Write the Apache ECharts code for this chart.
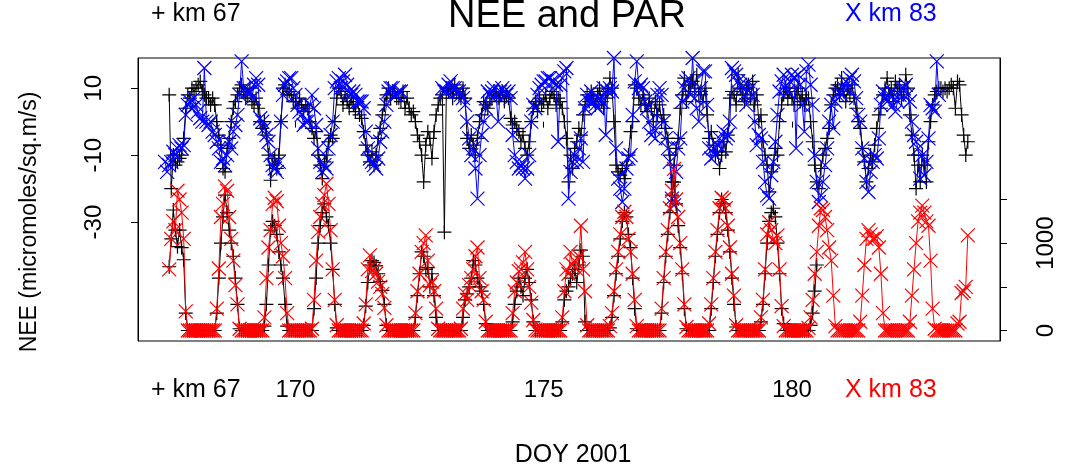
<!DOCTYPE html>
<html>
<head>
<meta charset="utf-8">
<title>NEE and PAR</title>
<script src="https://cdn.jsdelivr.net/npm/echarts@6/dist/echarts.min.js"></script>
<style>
  html, body { margin: 0; padding: 0; background: #fff; }
  #chart { width: 1077px; height: 469px; }
</style>
</head>
<body>
<div id="chart"></div>
<script>
// Hourly values (UTC hours 0..23), one row per day of year starting at DOY 167.
const _ = null;
const firstDay = 167;

// NEE, km 67 tower (micromoles/sq.m/s)
const neeKm67 = [
  [_,_,_,_,_,_, _,_,_,_,_,8, -20,-10,-13,-12,-11,-10, -5,4,8,7,10,9],
  [10,11,12,9,8,7, 7,5,7,5,0,-4, -7,-14,-15,-8,-5,0, 4,6,8,10,11,9],
  [7,8,10,6,5,7, 4,0,-2,0,-4,-10, -17.5,-13,-11,-14,-10,0, 10,11,8,9,8,6],
  [6,4,7,5,3,5, 4,0,-2,-5,-3,-10, -13,-17,-12,-10,-6,-4, -5,0,7,10,9,5],
  [8,6,4,7,5,3, 6,2,1,-3,-7,-10, -12,-9,-13,-10,-5,-2, 2,5,8,10,7,9],
  [9,7,7,6,9,4, 7,4,2,3,0,-4, -6,-10,-18,-7,-3,-5, -11,-3,2,5,7,8],
  [-33,10,9,10,7,11, 9,8,7,10,7,-5, -8,-4,-7,-10,-5,0, 2,6,5,4,6,7],
  [8,9,7,8,9,6, 8,7,1,-1,0,-2, -3,-6,-4,-8,-10,-6, 0,4,6,3,7,5],
  [6,8,4,7,9,8, 5,7,6,4,0,-5, -18,-10,-14,-8,-6,-2, -4,2,5,8,6,9],
  [7,5,8,10,6,4, 7,9,13,10,0,-13, -15,-16,-14,-17,-13,-10, -3,0,11,10,7,5],
  [8,5,3,7,4,0, 6,2,5,0,2,-2, -5,-10,-18,-13,-8,-5, 4,8,13,6,9,11],
  [12,10,14,8,9,6, 10,2,-5,-3,-7,-10, -9,-14,-10,-6,-9,-4, 7,9,8,5,14,10],
  [8,6,10,11,7,12, 5,8,0,2,-6,-10, -13,-21,-15,-13,-8,-10, 0,5,8,10,7,9],
  [7,5,9,10,6,8, 5,7,7,0,-6,-13, -18,-20,-14,-10,-8,-5, -2,5,8,10,11,8],
  [13,9,6,10,8,11, 7,4,0,-2,-8,-12, -18,-14,-10,-12,-7,-2, 2,4,8,10,13,8],
  [10,6,12,9,11,7, 8,14,10,2,-4,-10, -20,-13,-18,-10,-13,-18, -6,0,5,8,9,10],
  [10,9,10,9,10,11, 10,4,12,11,2,-4, -10,-6]
];

// NEE, km 83 tower
const neeKm83 = [
  [_,_,_,_,_,_, _,_,_,-12,-15,-13, -12,-9,-10,-8,-7,-8, -7,2,5,6,4,7],
  [5,3,1,0,16,0, -1,0,-3,-4,-6,-8, -12,-11,-13,-10,-6,-8, -3,-1,2,8,18,10],
  [10,9,9,7,11,13, 11,1,0,-2,-4,-6, -10,-13,-14,-15,-12,0, 8,11,12,13,13,10],
  [8,5,3,2,-1,0, 0,5,8,4,-1,-8, -12,-15,-13,-14,-8,-4, 0,10,12,13,10,12],
  [14,11,9,8,9,8, 6,6,6,4,-3,-8, -11,-12,-13,-14,-11,-6, -3,0,5,9,10,10],
  [8,8,9,9,_,_, _,_,_,_,_,_, _,_,_,_,_,_, _,_,_,_,_,10],
  [9,9,11,12,10,10, 9,9,8,7,5,0, -5,-10,-8,-14,-23,-10, -4,0,4,9,8,9],
  [10,8,0,9,10,9, 8,9,7,-4,-10,-12, -14,-13,-14,-17,-14,-10, 0,5,4,8,10,11],
  [12,12,13,13,12,12, 11,-6,11,13,15,16, -23,-15,-12,-10,-12,-8, -5,-12,4,8,6,9],
  [6,5,4,7,6,10, -4,9,10,9,19,-8, -17,-20,-24,-20,-14,-11, -10,2,12,18,10,11],
  [10,6,4,0,-4,-2, -5,8,10,8,0,-5, -8,-12,-23,-25,-15,-8, -5,6,10,12,13,8],
  [19,7,4,0,10,15, 15,5,-8,-11,-8,-10, -7,-5,-8,-3,-5,-4, 0,16,15,14,12,11],
  [10,8,5,12,10,8, 0,-7,-4,-5,-12,-18, -22,-23,-16,-12,-6,2, 9,12,14,10,9,12],
  [14,13,-8,14,11,5, -3,15,17,11,5,-10, -18,-24,-22,-18,-13,-8, 0,5,-2,6,8,9],
  [8,10,12,10,13,14, 12,7,2,0,-8,-11, -18,-21,-15,-12,-10,-11, -5,5,9,7,6,8],
  [9,5,3,6,8,10, 10,11,8,6,0,-4, -6,-8,-17,-10,-16,-12, -5,5,4,3,18,8]
];

// PAR, km 67 tower
const parKm67 = [
  [_,_,_,_,_,_, _,_,_,_,_,730, 1050,1380,1150,960,1150,950, 810,200,0,0,0,0],
  [0,0,0,0,0,0, 0,0,0,0,200,600, 1000,1300,1550,1350,1150,1000, 850,600,300,20,0,0],
  [0,0,0,0,0,0, 0,0,0,50,300,750, 1150,1250,1200,1100,900,750, 600,300,50,0,0,0],
  [0,0,0,0,0,0, 0,0,0,250,600,1000, 1200,1350,1450,1300,1200,1000, 700,300,30,0,0,0],
  [0,0,0,0,0,0, 0,0,0,60,280,550, 750,800,780,740,650,560, 460,300,60,0,0,0],
  [0,0,0,0,0,0, 0,0,0,0,150,400, 650,900,850,700,720,500, 650,400,150,0,0,0],
  [0,0,0,0,0,0, 0,0,0,150,350,420, 500,600,800,750,600,500, 450,300,80,0,0,0],
  [0,0,0,0,0,0, 0,0,0,100,300,450, 600,500,400,600,700,550, 350,100,0,0,0,0],
  [0,0,0,0,0,0, 0,0,0,100,350,450, 500,600,650,700,550,750, 920,850,100,0,0,0],
  [0,0,0,0,0,0, 0,0,30,150,400,650, 850,1050,1250,1350,1300,1100, 950,600,250,20,0,0],
  [0,0,0,0,0,0, 0,0,0,200,550,850, 1100,1350,1550,1700,1450,1200, 950,650,250,20,0,0],
  [0,0,0,0,0,0, 0,0,0,250,550,850, 1100,1350,1500,1450,1350,1150, 900,600,300,40,0,0],
  [0,0,0,0,0,0, 0,0,0,100,300,650, 1000,1250,1350,1400,1300,1000, 650,250,80,0,0,0],
  [0,0,0,0,0,0, 0,0,0,60,200,450, 750]
];

// PAR, km 83 tower
const parKm83 = [
  [_,_,_,_,_,_, _,_,_,_,_,700, 1050,1250,1150,1600,1500,1350, 1050,220,0,0,0,0],
  [0,0,0,0,0,0, 0,0,0,0,250,710, 1300,1450,1650,1600,1300,1050, 800,520,300,20,0,0],
  [0,0,0,0,0,0, 0,0,0,150,600,950, 1150,1450,1520,1480,1200,1000, 850,600,200,0,0,0],
  [0,0,0,0,0,0, 0,0,20,350,800,1130, 1300,1450,1550,1680,1450,1150, 700,350,60,0,0,0],
  [0,0,0,0,0,0, 0,0,0,80,300,700, 860,680,700,650,560,500, 420,260,60,0,0,0],
  [0,0,0,0,0,0, 0,0,0,0,200,450, 650,900,1000,1090,800,520, 560,450,250,20,0,0],
  [0,0,0,0,0,0, 0,0,20,250,420,350, 520,600,700,850,950,600, 450,350,100,0,0,0],
  [0,0,0,0,0,0, 0,0,0,200,450,550, 680,700,780,900,700,500, 320,120,10,0,0,0],
  [0,0,0,0,0,0, 0,0,0,150,450,700, 650,900,750,800,700,850, 1200,700,450,60,0,0],
  [0,0,0,0,0,0, 0,0,50,200,450,700, 900,1100,1300,1360,1300,1050, 900,650,350,50,0,0],
  [0,0,0,0,0,0, 0,0,0,250,600,900, 1150,1400,1600,1850,1500,1300, 1000,700,300,40,0,0],
  [0,0,0,0,0,0, 0,0,80,300,600,900, 1150,1400,1520,1500,1400,1200, 950,650,400,60,0,0],
  [0,0,0,0,0,0, 0,0,0,150,350,700, 1100,1240,1150,1050,1000,1090, 700,280,50,0,0,0],
  [0,0,0,0,0,0, 0,0,30,150,350,650, 900,1200,1400,1380,1300,1150, 950,800,400,50,0,0],
  [0,0,0,0,0,0, 0,0,0,100,400,750, 1050,1150,1100,1050,1050,1080, 950,650,200,0,0,0],
  [0,0,0,0,0,0, 0,0,0,100,400,700, 1000,1250,1350,1430,1350,1250, 1200,800,250,20,0,0],
  [0,0,0,0,0,0, 0,0,80,100,430,450, 500,1090]
];

// Axis ticks and labels
const doyTicks = [170, 175, 180];
const neeTicks = [-30, -10, 10];
const parTicks = [0, 500, 1000, 1500];
const parLabels = [0, 1000];

const fontFamily = '"Liberation Sans", Arial, Helvetica, sans-serif';
const PLUS = 'path://M0,7L14,7M7,0L7,14';
const CROSS = 'path://M0,0L14,14M0,14L14,0';

function toPoints(rows) {
  const pts = [];
  rows.forEach((row, d) => {
    row.forEach((v, h) => pts.push([firstDay + d + h / 24, v]));
  });
  return pts;
}

function markSeries(name, rows, yAxisIndex, color, symbol, z) {
  return {
    name, type: 'line', yAxisIndex, z,
    data: toPoints(rows),
    symbol, symbolSize: 14, showAllSymbol: true, clip: false,
    lineStyle: { color, width: 1 },
    itemStyle: { color: 'none', borderColor: color, borderWidth: 1.2 },
    emphasis: { disabled: true }, silent: true
  };
}

function text(str, x, y, opts) {
  return {
    type: 'text', x, y, silent: true,
    style: Object.assign({
      text: str, fill: '#000', fontSize: 24, fontFamily,
      align: 'left', verticalAlign: 'middle'
    }, opts || {})
  };
}

const chart = echarts.init(document.getElementById('chart'), null, { renderer: 'canvas' });
const labelStyle = { color: '#000', fontSize: 24, fontFamily };

chart.setOption({
  animation: false,
  backgroundColor: '#fff',
  grid: {
    left: 138, top: 58, width: 862, height: 283,
    show: true, borderColor: '#000', borderWidth: 1, backgroundColor: 'transparent'
  },
  xAxis: {
    type: 'value', min: 166.83, max: 184.19,
    axisLine: { show: false }, splitLine: { show: false },
    axisTick: { show: true, customValues: doyTicks, length: 6, lineStyle: { color: '#000' } },
    axisLabel: Object.assign({ customValues: doyTicks, margin: 37, formatter: v => String(v) }, labelStyle)
  },
  yAxis: [
    {
      type: 'value', min: -65.5, max: 19, position: 'left',
      axisLine: { show: true, lineStyle: { color: '#000' } },
      splitLine: { show: false },
      axisTick: { show: true, customValues: neeTicks, length: 7, lineStyle: { color: '#000' } },
      axisLabel: Object.assign({ customValues: neeTicks, rotate: 90, margin: 32, formatter: v => String(v) }, labelStyle)
    },
    {
      type: 'value', min: -120, max: 3120, position: 'right',
      axisLine: { show: true, lineStyle: { color: '#000' } },
      splitLine: { show: false },
      axisTick: { show: true, customValues: parTicks, length: 7, lineStyle: { color: '#000' } },
      axisLabel: Object.assign({ customValues: parLabels, rotate: 90, margin: 34, formatter: v => String(v) }, labelStyle)
    }
  ],
  graphic: [
    text('NEE and PAR', 567, 17, { fontSize: 38, align: 'center' }),
    text('+ km 67', 151, 14, { fontSize: 25 }),
    text('X km 83', 845, 14, { fontSize: 25, fill: '#0000ff' }),
    text('+ km 67', 151, 390, { fontSize: 25 }),
    text('X km 83', 845, 390, { fontSize: 25, fill: '#ff0000' }),
    text('DOY 2001', 573, 455, { fontSize: 25, align: 'center' }),
    Object.assign(text('NEE (micromoles/sq.m/s)', 30, 222, { fontSize: 23, align: 'center' }), { rotation: Math.PI / 2 })
  ],
  series: [
    markSeries('NEE km 67', neeKm67, 0, '#000000', PLUS, 2),
    markSeries('NEE km 83', neeKm83, 0, '#0000ff', CROSS, 3),
    markSeries('PAR km 67', parKm67, 1, '#000000', PLUS, 4),
    markSeries('PAR km 83', parKm83, 1, '#ff0000', CROSS, 5)
  ]
});
</script>
</body>
</html>
